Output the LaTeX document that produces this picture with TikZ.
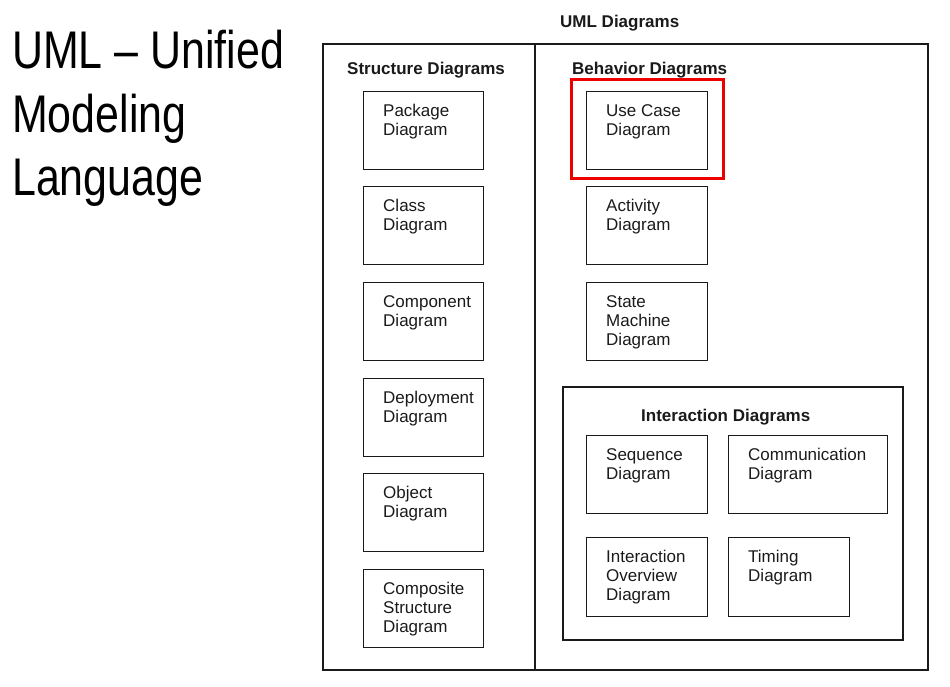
\documentclass[tikz,border=0pt]{standalone}
\usepackage{fontspec}
\setmainfont{Liberation Sans}
\newfontfamily\narrowfont[FakeStretch=0.81]{Liberation Sans}
\definecolor{ink}{HTML}{1A1A1A}
\definecolor{hilite}{HTML}{EE0000}
\begin{document}
\begin{tikzpicture}[x=1pt,y=-1pt,
  frame/.style={draw=ink,line width=2pt},
  dbox/.style={draw=ink,line width=1.3pt,inner sep=0pt,anchor=north west},
  lbl/.style={anchor=base west,inner sep=0pt,text=ink,align=left,font=\fontsize{17}{19}\selectfont},
  head/.style={anchor=base west,inner sep=0pt,text=ink,font=\fontsize{17}{19}\selectfont\bfseries},
  title/.style={anchor=base west,inner sep=0pt,text=black,font=\narrowfont\fontsize{53}{64}\selectfont}]
\useasboundingbox (0,0) rectangle (950,686);
% title
\node[title] (t1) at (12,68) {UML – Unified};
\node[title] (t2) at (12,132) {Modeling};
\node[title] (t3) at (12,195) {Language};
% frames
\node[head] (uml) at (560,27) {UML Diagrams};
\draw[frame] (323,44) rectangle (928,670);
\draw[frame] (535,44) -- (535,670);
\node[head] (sd) at (347,74) {Structure Diagrams};
\node[head] (bd) at (572,74) {Behavior Diagrams};
% structure boxes (label node base = last line baseline)
\foreach \n/\t/\dy/\txt in {pkg/91/44/Package\\Diagram, cls/186/44/Class\\Diagram, cmp/282/44/Component\\Diagram, dep/378/44/Deployment\\Diagram, obj/473/44/Object\\Diagram, com/569/63/Composite\\Structure\\Diagram}{
  \node[dbox,minimum width=120pt,minimum height=78pt] (\n) at (363,\t) {};
  \node[lbl] (\n-l) at ([shift={(20,\dy)}]\n.north west) {\txt};
}
% behavior boxes
\foreach \n/\t/\dy/\txt in {uc/91/44/Use Case\\Diagram, act/186/44/Activity\\Diagram, sm/282/63/State\\Machine\\Diagram}{
  \node[dbox,minimum width=121pt,minimum height=78pt] (\n) at (586,\t) {};
  \node[lbl] (\n-l) at ([shift={(20,\dy)}]\n.north west) {\txt};
}
\draw[draw=hilite,line width=3pt] (571,79) rectangle (723,178);
% interaction
\draw[frame] (563,387) rectangle (903,640);
\node[head] (id) at (641,421) {Interaction Diagrams};
\node[dbox,minimum width=121pt,minimum height=78pt] (seq) at (586,435) {};
\node[lbl] (seq-l) at ([shift={(20,44)}]seq.north west) {Sequence\\Diagram};
\node[dbox,minimum width=159pt,minimum height=78pt] (cmm) at (728,435) {};
\node[lbl] (cmm-l) at ([shift={(20,44)}]cmm.north west) {Communication\\Diagram};
\node[dbox,minimum width=121pt,minimum height=79pt] (io) at (586,537) {};
\node[lbl] (io-l) at ([shift={(20,63)}]io.north west) {Interaction\\Overview\\Diagram};
\node[dbox,minimum width=121pt,minimum height=79pt] (tim) at (728,537) {};
\node[lbl] (tim-l) at ([shift={(20,44)}]tim.north west) {Timing\\Diagram};
\end{tikzpicture}
\end{document}
